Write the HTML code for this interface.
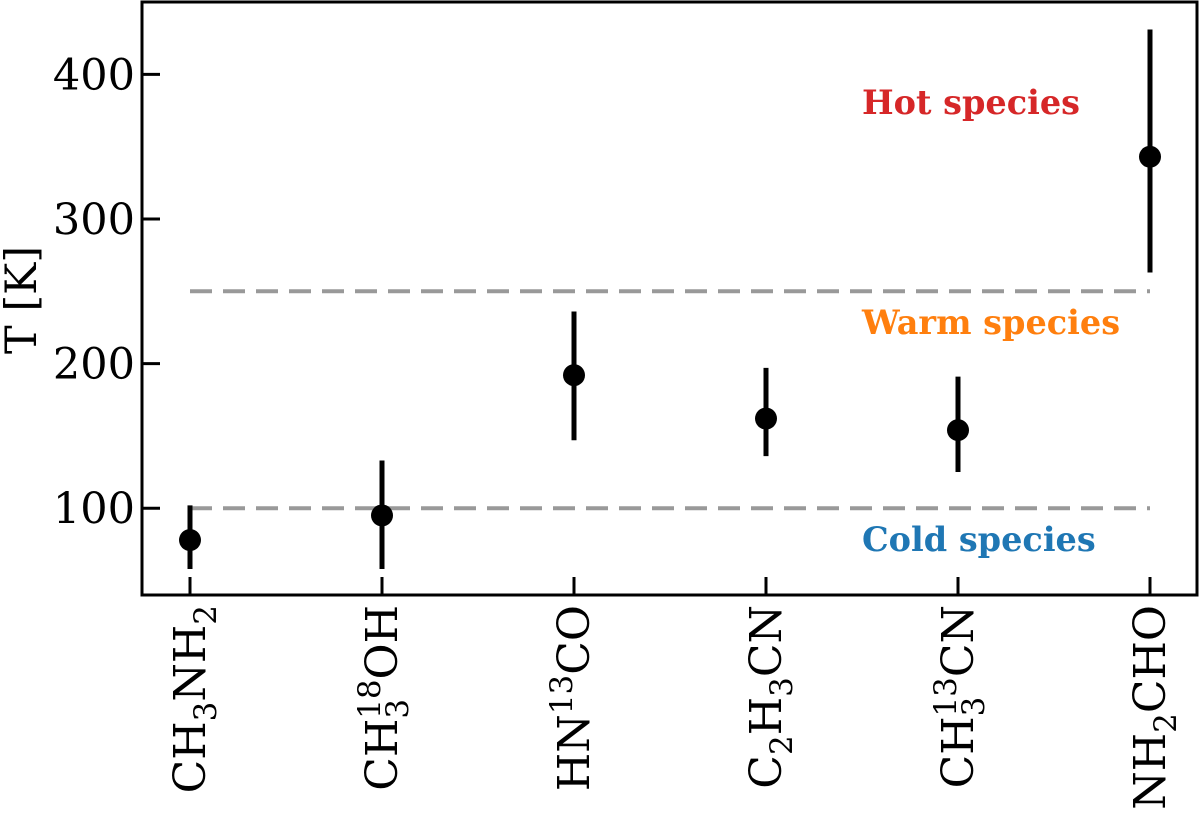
<!DOCTYPE html>
<html><head><meta charset="utf-8"><style>
body{margin:0;background:#fff}
svg text{font-family:"DejaVu Serif","Liberation Serif",serif}
</style></head><body>
<svg id="chart" width="1200" height="812" viewBox="0 0 1200 812" xmlns="http://www.w3.org/2000/svg">
<g id="plot"></g>
</svg>
<script>
const categories = ["CH3NH2","CH3-18OH","HN13CO","C2H3CN","CH3-13CN","NH2CHO"];
const temps = [78, 95, 192, 162, 154, 343];
const errLow = [58, 58, 147, 136, 125, 263];
const errHigh = [102, 133, 236, 197, 191, 431];
const yTicks = [100, 200, 300, 400];
const thresholds = [100, 250];
const regionLabels = ["Hot species","Warm species","Cold species"];
const regionValues = [380, 228, 78];
const regionColors = ["#d62728","#ff7f0e","#1f77b4"];

const NS="http://www.w3.org/2000/svg";
const L=142,R=1197,T=2,B=595;
const yMin=40,yMax=450;
function y(v){return B-(v-yMin)/(yMax-yMin)*(B-T);}
function x(i){return 190+i*192;}
const g=document.getElementById('plot');
function el(tag,attrs,parent){const e=document.createElementNS(NS,tag);for(const k in attrs)e.setAttribute(k,attrs[k]);(parent||g).appendChild(e);return e;}

thresholds.forEach((t,i)=>{
  const l=el('line',{x1:x(0),x2:x(5),y1:y(t),y2:y(t),stroke:'#999','stroke-width':4,'stroke-dasharray':'22,11'});
  
  
});
regionLabels.forEach((s,i)=>{
  const t=el('text',{x:862,y:y(regionValues[i])+11,'text-anchor':'start','font-size':33.5,'font-weight':'bold',fill:regionColors[i]});
  t.textContent=s;
  
  
});
temps.forEach((v,i)=>{
  const e=el('line',{x1:x(i),x2:x(i),y1:y(errLow[i]),y2:y(errHigh[i]),stroke:'#000','stroke-width':5});
  
  
  const c=el('circle',{cx:x(i),cy:y(v),r:11,fill:'#000'});
  
  
});
const fr=el('rect',{x:L,y:T,width:R-L,height:B-T,fill:'none',stroke:'#000','stroke-width':3});


yTicks.forEach(v=>{
  const tk=el('line',{x1:L,x2:L+18,y1:y(v),y2:y(v),stroke:'#000','stroke-width':3});
  
  
  const t=el('text',{x:135,y:y(v)+15,'text-anchor':'end','font-size':43});
  t.textContent=v;
  
  
});
categories.forEach((c,i)=>{
  const tk=el('line',{x1:x(i),x2:x(i),y1:B,y2:B-18,stroke:'#000','stroke-width':3});
  
  
});
const labelParts=[
 [["CH",0],["3",-1],["NH",0],["2",-1]],
 [["CH",0],["3",-1],["18",2],["OH",0]],
 [["HN",0],["13",1],["CO",0]],
 [["C",0],["2",-1],["H",0],["3",-1],["CN",0]],
 [["CH",0],["3",-1],["13",2],["CN",0]],
 [["NH",0],["2",-1],["CHO",0]]
];
labelParts.forEach((parts,i)=>{
  const t=el('text',{transform:`translate(${x(i)+15},605) rotate(-90)`,'text-anchor':'end','font-size':44});
  
  
  let cur=0;
  parts.forEach(([s,m])=>{
    const sp=document.createElementNS(NS,'tspan');
    let target=0;
    if(m===-1){target=11;sp.setAttribute('font-size',31);}
    if(m===1){target=-17;sp.setAttribute('font-size',31);}
    if(m===2){target=-17;sp.setAttribute('font-size',31);sp.setAttribute('dx',-20);}
    sp.setAttribute('dy',target-cur);cur=target;
    sp.textContent=s;t.appendChild(sp);
  });
});
const yl=el('text',{transform:'translate(36,300) rotate(-90)','text-anchor':'middle','font-size':43});
yl.textContent='T [K]';


</script>
</body></html>
